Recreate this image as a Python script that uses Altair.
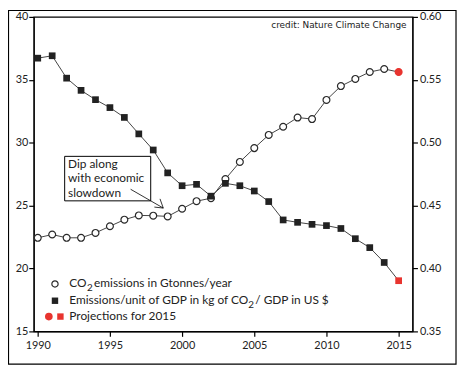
import altair as alt
import pandas as pd

# ---- data ----
years = list(range(1990, 2016))
co2_gt = [22.44, 22.70, 22.44, 22.44, 22.83, 23.36, 23.88, 24.22, 24.20, 24.14,
          24.75, 25.35, 25.59, 27.11, 28.47, 29.57, 30.62, 31.27, 32.00, 31.88,
          33.40, 34.50, 35.07, 35.62, 35.86, 35.62]
gdp_intensity = [0.5672, 0.5691, 0.5513, 0.5416, 0.5342, 0.5279, 0.5201, 0.5070,
                 0.4942, 0.4760, 0.4658, 0.4669, 0.4575, 0.4677, 0.4658, 0.4616,
                 0.4532, 0.4386, 0.4367, 0.4351, 0.4341, 0.4318, 0.4237, 0.4166,
                 0.4048, 0.3903]
status = ["Observed"] * 25 + ["Projection"]

left_ticks = [15, 20, 25, 30, 35, 40]
right_ticks = [0.35, 0.40, 0.45, 0.50, 0.55, 0.60]
x_ticks = [1990, 1995, 2000, 2005, 2010, 2015]

note_lines = ["Dip along", "with economic", "slowdown"]
credit = "credit: Nature Climate Change"

RED = "#e8342f"
DARK = "#2a2a2a"
LINE = "#444444"
FONT = "Lato"

df = pd.DataFrame({"year": years, "co2": co2_gt, "gdp": gdp_intensity, "status": status})
one = pd.DataFrame({"k": [0]})

W, H = 383, 318
OX, OY = 34, 15  # plot origin on the page (for annotation placement)

x_enc = alt.X("year:Q",
              scale=alt.Scale(domain=[1989.72, 2015.96], nice=False, zero=False),
              axis=alt.Axis(values=x_ticks, format="d", title=None, labelPadding=3))

is_proj = "datum.status == 'Projection'"

base = alt.Chart(df)

y_left = alt.Y("co2:Q", scale=alt.Scale(domain=[15, 40], nice=False, zero=False),
               axis=alt.Axis(values=left_ticks, orient="left", title=None, labelPadding=1))
y_right = alt.Y("gdp:Q", scale=alt.Scale(domain=[0.35, 0.60], nice=False, zero=False),
                axis=alt.Axis(values=right_ticks, orient="right", title=None, format=".2f",
                              labelPadding=2))

co2_line = base.mark_line(color=LINE, strokeWidth=1).encode(x=x_enc, y=y_left)
co2_pts = base.mark_point(shape="circle", size=48, strokeWidth=1.2, opacity=1, filled=False).encode(
    x=x_enc, y=y_left,
    fill=alt.condition(is_proj, alt.value(RED), alt.value("white")),
    stroke=alt.condition(is_proj, alt.value(RED), alt.value(DARK)),
)
co2_layer = alt.layer(co2_line, co2_pts)

gdp_line = base.mark_line(color=LINE, strokeWidth=1).encode(x=x_enc, y=y_right)
gdp_pts = base.mark_point(shape="square", size=46, filled=True, opacity=1, strokeWidth=0).encode(
    x=x_enc, y=y_right,
    fill=alt.condition(is_proj, alt.value(RED), alt.value("#222222")),
)
gdp_layer = alt.layer(gdp_line, gdp_pts)

ann = alt.Chart(one)


def px(x):
    return alt.value(x - OX)


def py(y):
    return alt.value(y - OY)


# outer frame
frame = ann.mark_rect(fillOpacity=0, stroke="black", strokeWidth=1.2).encode(
    x=px(8.5), x2=px(461), y=py(8.5), y2=py(366))

# credit
credit_txt = ann.mark_text(align="right", baseline="middle", font="DejaVu Sans",
                           fontSize=9, color="#222").encode(
    x=px(411), y=py(23), text=alt.value(credit))

# annotation box + arrow
box = ann.mark_rect(fill="white", stroke="black", strokeWidth=1).encode(
    x=px(65.3), x2=px(152.3), y=py(156), y2=py(201))
note = ann.mark_text(align="left", baseline="middle", font=FONT, fontSize=12,
                     lineHeight=14.7, color="#222").encode(
    x=px(68.7), y=py(163.3), text=alt.value(note_lines))
arrow = ann.mark_rule(color="black", strokeWidth=0.8).encode(
    x=px(132), y=py(189.3), x2=px(165), y2=py(208.3))
arm1 = ann.mark_rule(color="black", strokeWidth=0.8).encode(
    x=px(161.7), y=py(199), x2=px(165), y2=py(208.3))
arm2 = ann.mark_rule(color="black", strokeWidth=0.8).encode(
    x=px(156), y=py(207.3), x2=px(165), y2=py(208.3))

# legend symbols
leg_c = ann.mark_point(shape="circle", size=40, filled=False, stroke=DARK, strokeWidth=1.2,
                       fill="white", opacity=1).encode(x=px(55.5), y=py(285))
leg_s = ann.mark_point(shape="square", size=42, filled=True, fill="#222", opacity=1,
                       strokeWidth=0).encode(x=px(55.5), y=py(302))
leg_rc = ann.mark_point(shape="circle", size=60, filled=True, fill=RED, opacity=1,
                        strokeWidth=0).encode(x=px(49.3), y=py(318))
leg_rs = ann.mark_point(shape="square", size=42, filled=True, fill=RED, opacity=1,
                        strokeWidth=0).encode(x=px(61), y=py(318))

# legend texts (with real lowered subscripts)
legend_segments = [
    # (text, page x, page y, font size)
    ("CO", 70, 284.5, 12),
    ("2", 88, 289.5, 10),
    ("emissions in Gtonnes/year", 95, 284.5, 12),
    ("Emissions/unit of GDP in kg of CO", 70, 301.7, 12),
    ("2", 251, 306.7, 10),
    ("/ GDP in US $", 258, 301.7, 12),
    ("Projections for 2015", 70, 317.5, 12),
]
leg_t = [
    ann.mark_text(align="left", baseline="middle", font=FONT, fontSize=fs, color="#222").encode(
        x=px(xx), y=py(yy), text=alt.value(t))
    for t, xx, yy, fs in legend_segments
]

chart = alt.layer(
    frame, co2_layer, gdp_layer, credit_txt, box, note, arrow, arm1, arm2,
    leg_c, leg_s, leg_rc, leg_rs, *leg_t
).resolve_scale(y="independent").properties(
    width=W, height=H,
    autosize=alt.AutoSizeParams(type="none"),
    padding={"left": 26, "top": 7, "right": 45, "bottom": 34},
    background="white",
).configure_view(stroke="black", strokeWidth=1.2).configure_axis(
    grid=False, labelFont=FONT, labelFontSize=11, labelColor="#222",
    domainColor="black", domainWidth=1.2, tickColor="black", tickWidth=1.2, tickSize=5,
)

chart.save("out.html", embed_options={"renderer": "svg", "actions": False})
